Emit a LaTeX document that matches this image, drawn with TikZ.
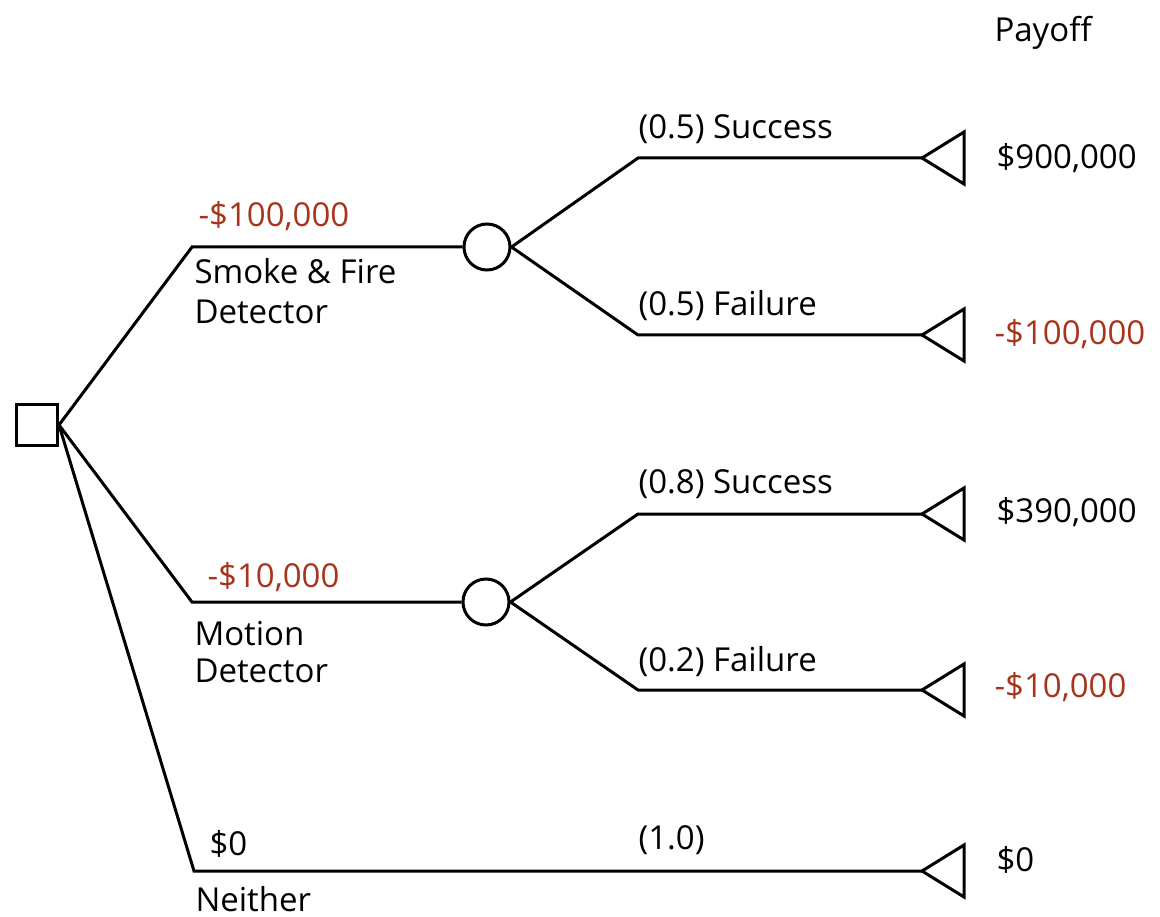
\documentclass[tikz,border=0pt]{standalone}
\usepackage{fontspec}
\setmainfont{Open Sans}
\definecolor{loss}{HTML}{A8341C}
\begin{document}
\begin{tikzpicture}[x=1pt,y=-1pt,
  line width=3pt,
  lbl/.style={inner sep=0pt,anchor=base west,font=\fontsize{33}{36}\selectfont},
  neg/.style={lbl,text=loss},
  decnode/.style={draw,rectangle,minimum size=41pt,inner sep=0pt,line width=3pt},
  chance/.style={draw,circle,minimum size=46pt,inner sep=0pt,line width=3pt},
  term/.pic={\draw[line width=3pt,line join=miter] (0,0) -- (42,-26) -- (42,26) -- cycle;}
]
\useasboundingbox (0,0) rectangle (1160,917);

% decision node
\node[decnode] (dec) at (37,425) {};

% corners
\coordinate (k1) at (192,247);
\coordinate (k2) at (192,602);
\coordinate (k3) at (194,871);

% chance nodes
\node[chance] (c1) at (487,247) {};
\node[chance] (c2) at (486,602) {};

\coordinate (s1) at (638,158);
\coordinate (f1) at (638,335);
\coordinate (s2) at (638,514);
\coordinate (f2) at (638,690);

% terminal points
\coordinate (t1) at (922,158);
\coordinate (t2) at (922,335);
\coordinate (t3) at (922,514);
\coordinate (t4) at (922,690);
\coordinate (t5) at (922,871);
\pic at (t1) {term};
\pic at (t2) {term};
\pic at (t3) {term};
\pic at (t4) {term};
\pic at (t5) {term};

% connectors
\draw[line join=miter] (dec.east) -- (k1) -- (c1.west);
\draw[line join=miter] (dec.east) -- (k2) -- (c2.west);
\draw[line join=miter] (dec.east) -- (k3) -- (t5);
\draw[line join=miter] (c1.east) -- (s1) -- (t1);
\draw[line join=miter] (c1.east) -- (f1) -- (t2);
\draw[line join=miter] (c2.east) -- (s2) -- (t3);
\draw[line join=miter] (c2.east) -- (f2) -- (t4);

% labels
\node[lbl] (pay) at (993,42) {Payoff};
\node[neg] (cost1) at (197,227) {-\$100,000};
\node[lbl] (alt1a) at (193,284) {Smoke \& Fire};
\node[lbl] (alt1b) at (193,324) {Detector};
\node[neg] (cost2) at (206,587) {-\$10,000};
\node[lbl] (alt2a) at (193,645) {Motion};
\node[lbl] (alt2b) at (193,682) {Detector};
\node[lbl] (cost3) at (208,855) {\$0};
\node[lbl] (alt3) at (194,911) {Neither};

\node[lbl] (p1) at (637,139) {(0.5) Success};
\node[lbl] (p2) at (637,316) {(0.5) Failure};
\node[lbl] (p3) at (637,493) {(0.8) Success};
\node[lbl] (p4) at (637,671) {(0.2) Failure};
\node[lbl] (p5) at (637,849) {(1.0)};

\node[lbl] (v1) at (995,169) {\$900,000};
\node[neg] (v2) at (993,345) {-\$100,000};
\node[lbl] (v3) at (995,522) {\$390,000};
\node[neg] (v4) at (993,697) {-\$10,000};
\node[lbl] (v5) at (995,871) {\$0};
\end{tikzpicture}
\end{document}
